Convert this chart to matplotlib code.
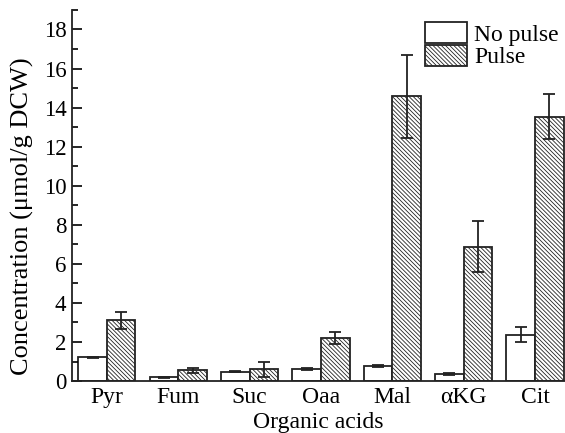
import numpy as np
import matplotlib.pyplot as plt
from matplotlib.ticker import MultipleLocator

plt.rcParams['font.family'] = ['Liberation Serif', 'DejaVu Serif']
plt.rcParams['hatch.linewidth'] = 0.6
plt.rcParams['hatch.color'] = '#444444'

acids = ["Pyr", "Fum", "Suc", "Oaa", "Mal", "\u03b1KG", "Cit"]
no_pulse = [1.21, 0.2, 0.48, 0.62, 0.79, 0.36, 2.38]
no_pulse_err = [0.03, 0.02, 0.04, 0.04, 0.05, 0.03, 0.37]
pulse = [3.1, 0.55, 0.6, 2.2, 14.57, 6.88, 13.54]
pulse_err = [0.44, 0.12, 0.38, 0.3, 2.13, 1.3, 1.17]

x = np.arange(len(acids))
w = 0.4

fig = plt.figure(figsize=(5.65, 4.33), dpi=100)
ax = fig.add_axes([0.1274, 0.12, 0.8726, 0.857])

ax.bar(x - w / 2, no_pulse, w, color='white', edgecolor='#222222', linewidth=1.3,
       yerr=no_pulse_err, capsize=4, error_kw=dict(elinewidth=1.3, capthick=1.3, ecolor='#222222'),
       label="No pulse")
ax.bar(x + w / 2, pulse, w, color='white', edgecolor='#222222', linewidth=1.3, hatch='\\' * 8,
       yerr=pulse_err, capsize=4, error_kw=dict(elinewidth=1.3, capthick=1.3, ecolor='#222222'),
       label="Pulse")

ax.set_xlim(-0.49, 6.42)
ax.set_ylim(0, 19)
ax.set_xticks(x)
ax.set_xticklabels(acids)
ax.yaxis.set_major_locator(MultipleLocator(2))
ax.yaxis.set_minor_locator(MultipleLocator(1))
ax.tick_params(axis='y', which='major', direction='in', length=7, width=1.2, labelsize=16.5, pad=4)
ax.tick_params(axis='y', which='minor', direction='in', length=4, width=1.2)
ax.tick_params(axis='x', length=0, labelsize=17, pad=4)

for s in ['top', 'right']:
    ax.spines[s].set_visible(False)
for s in ['left', 'bottom']:
    ax.spines[s].set_linewidth(1.3)
    ax.spines[s].set_color('#222222')

ax.set_ylabel("Concentration (\u03bcmol/g DCW)", fontsize=19)
ax.yaxis.set_label_coords(-0.077, 0.445)
ax.set_xlabel("Organic acids", fontsize=17, labelpad=3)

ax.legend(loc='upper left', bbox_to_anchor=(0.752, 0.949), bbox_transform=fig.transFigure,
          frameon=False, fontsize=17, handlelength=1.78, handleheight=1.0,
          labelspacing=-0.05, handletextpad=0.3, borderpad=0, borderaxespad=0)

plt.savefig("out.png", dpi=100)
